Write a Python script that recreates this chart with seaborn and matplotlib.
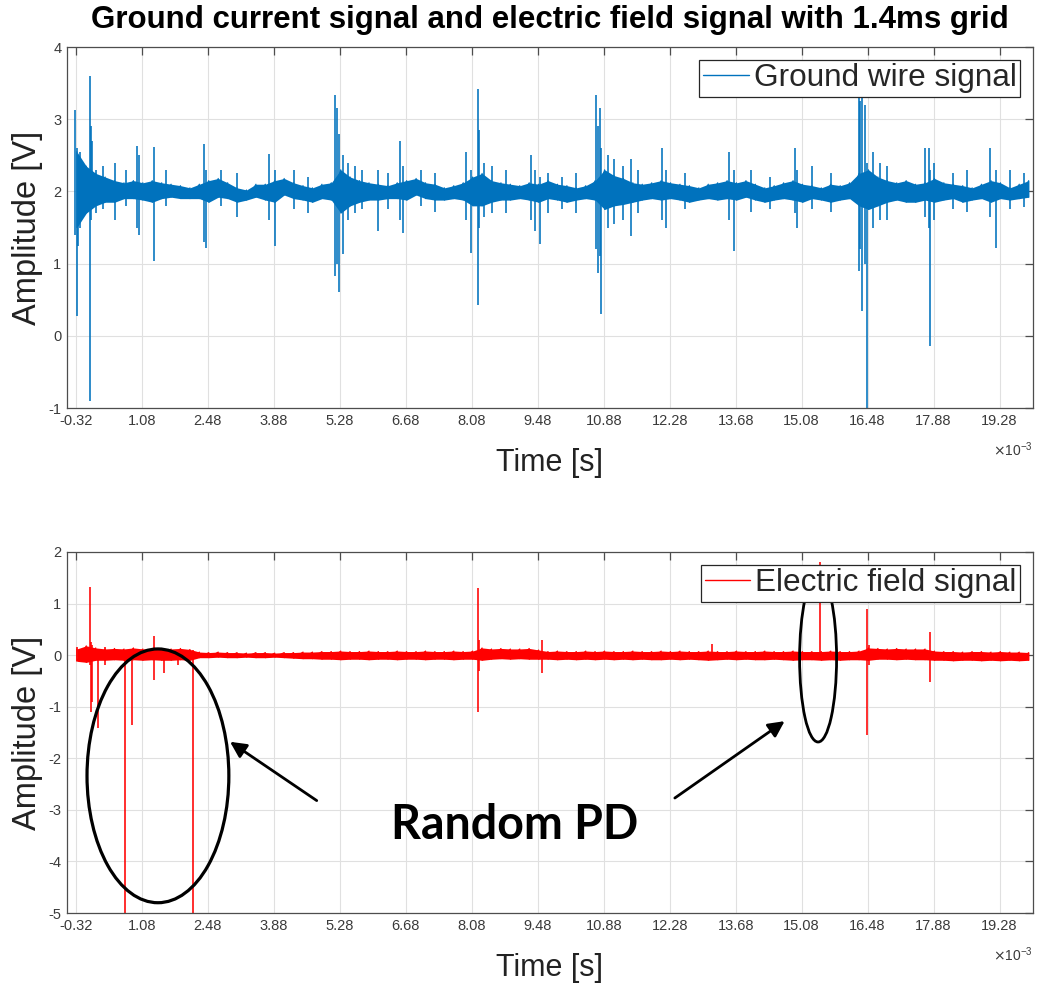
import numpy as np
import pandas as pd
import matplotlib
matplotlib.use("Agg")
import matplotlib.pyplot as plt
import seaborn as sns
from matplotlib.patches import Ellipse

# ---------------- data (time in ms, amplitude in V) ----------------
xtick_ms = [-0.32, 1.08, 2.48, 3.88, 5.28, 6.68, 8.08, 9.48, 10.88,
            12.28, 13.68, 15.08, 16.48, 17.88, 19.28]
env_t0, env_dt = -0.3, 0.2      # envelope sampling of the noise band

# Ground wire signal: noise band envelope
gw_upper = [2.55, 2.35, 2.25, 2.20, 2.15, 2.12, 2.15, 2.12, 2.15, 2.12,
            2.10, 2.08, 2.05, 2.10, 2.15, 2.18, 2.12, 2.05, 2.02, 2.10,
            2.10, 2.15, 2.18, 2.12, 2.08, 2.05, 2.10, 2.12, 2.30, 2.20,
            2.15, 2.12, 2.10, 2.08, 2.12, 2.15, 2.18, 2.12, 2.10, 2.05,
            2.08, 2.12, 2.20, 2.25, 2.15, 2.12, 2.10, 2.08, 2.12, 2.10,
            2.15, 2.10, 2.08, 2.05, 2.08, 2.15, 2.30, 2.22, 2.18, 2.12,
            2.10, 2.12, 2.15, 2.12, 2.10, 2.08, 2.05, 2.10, 2.12, 2.15,
            2.12, 2.15, 2.10, 2.05, 2.08, 2.12, 2.15, 2.10, 2.08, 2.05,
            2.10, 2.08, 2.12, 2.25, 2.30, 2.20, 2.15, 2.12, 2.15, 2.10,
            2.12, 2.18, 2.12, 2.10, 2.08, 2.05, 2.10, 2.15, 2.12, 2.05,
            2.10, 2.15]
gw_lower = [1.50, 1.70, 1.80, 1.85, 1.85, 1.90, 1.90, 1.88, 1.85, 1.90,
            1.92, 1.90, 1.90, 1.90, 1.85, 1.92, 1.90, 1.85, 1.88, 1.92,
            1.88, 1.85, 1.95, 1.90, 1.88, 1.85, 1.90, 1.88, 1.70, 1.80,
            1.85, 1.88, 1.88, 1.90, 1.90, 1.88, 1.95, 1.90, 1.88, 1.88,
            1.90, 1.88, 1.80, 1.80, 1.85, 1.88, 1.88, 1.90, 1.88, 1.85,
            1.90, 1.88, 1.85, 1.88, 1.90, 1.88, 1.75, 1.80, 1.82, 1.85,
            1.88, 1.90, 1.88, 1.90, 1.88, 1.85, 1.88, 1.90, 1.88, 1.90,
            1.88, 1.92, 1.88, 1.85, 1.88, 1.90, 1.88, 1.85, 1.90, 1.88,
            1.85, 1.88, 1.90, 1.80, 1.75, 1.80, 1.85, 1.88, 1.85, 1.85,
            1.88, 1.85, 1.88, 1.90, 1.85, 1.88, 1.90, 1.85, 1.90, 1.88,
            1.90, 1.92]
# Ground wire signal: pulses (time, peak, trough)
gw_pulse_t = [-0.33, -0.30, -0.27, -0.24, -0.20, -0.03, -0.01, 0.02, 0.10, 0.25,
              0.51, 0.75, 0.98, 1.02, 1.33, 1.60, 2.39, 2.44, 2.75, 3.10,
              3.78, 3.90, 4.30, 4.60, 5.17, 5.23, 5.27, 5.35, 5.45, 5.60,
              5.75, 6.09, 6.30, 6.55, 6.62, 7.00, 7.30, 7.95, 8.07, 8.21,
              8.24, 8.35, 8.50, 8.80, 9.34, 9.42, 9.52, 9.69, 10.00, 10.30,
              10.72, 10.76, 10.80, 10.83, 10.98, 11.10, 11.30, 11.45, 11.60, 12.12,
              12.20, 12.60, 13.53, 13.65, 14.00, 14.40, 14.94, 14.99, 15.30, 15.70,
              16.29, 16.33, 16.36, 16.42, 16.46, 16.60, 16.75, 16.90, 17.70, 17.78,
              17.81, 17.90, 18.30, 18.60, 19.08, 19.21, 19.50, 19.80]
gw_pulse_hi = [3.13, 2.60, 2.50, 2.55, 2.40, 3.60, 2.90, 2.70, 2.30, 2.35,
               2.40, 2.30, 2.63, 2.50, 2.62, 2.30, 2.65, 2.30, 2.30, 2.25,
               2.52, 2.30, 2.30, 2.20, 3.33, 3.15, 2.80, 2.50, 2.40, 2.35,
               2.30, 2.30, 2.25, 2.70, 2.35, 2.30, 2.25, 2.55, 2.30, 3.42,
               2.85, 2.40, 2.35, 2.30, 2.50, 2.30, 2.20, 2.25, 2.20, 2.25,
               3.33, 2.90, 3.15, 2.60, 2.50, 2.45, 2.35, 2.45, 2.30, 2.60,
               2.30, 2.25, 2.55, 2.30, 2.30, 2.20, 2.60, 2.30, 2.35, 2.25,
               3.30, 3.25, 3.30, 3.20, 2.40, 2.55, 2.40, 2.35, 2.60, 2.60,
               2.30, 2.40, 2.25, 2.30, 2.60, 2.30, 2.30, 2.25]
gw_pulse_lo = [1.40, 0.27, 1.24, 1.50, 1.70, -0.90, 1.60, 1.75, 1.70, 1.75,
               1.60, 1.80, 1.50, 1.40, 1.03, 1.80, 1.30, 1.22, 1.80, 1.65,
               1.60, 1.25, 1.75, 1.70, 0.83, 1.00, 0.60, 1.13, 1.60, 1.70,
               1.75, 1.45, 1.75, 1.60, 1.43, 1.80, 1.72, 1.60, 1.15, 0.42,
               1.50, 1.65, 1.70, 1.70, 1.60, 1.45, 1.27, 1.70, 1.75, 1.70,
               1.20, 0.87, 1.10, 0.30, 1.50, 1.55, 1.60, 1.38, 1.70, 1.60,
               1.50, 1.75, 1.60, 1.17, 1.72, 1.75, 1.70, 1.50, 1.75, 1.72,
               0.90, 1.20, 0.35, 1.00, -1.00, 1.50, 1.60, 1.60, 1.65, 1.50,
               -0.14, 1.60, 1.75, 1.72, 1.65, 1.22, 1.75, 1.78]

# Electric field signal: noise band envelope
ef_upper = [0.12, 0.18, 0.14, 0.12, 0.13, 0.12, 0.14, 0.12, 0.13, 0.12,
            0.12, 0.13, 0.11, 0.06, 0.05, 0.06, 0.05, 0.05, 0.04, 0.05,
            0.05, 0.04, 0.05, 0.05, 0.06, 0.06, 0.07, 0.07, 0.08, 0.07,
            0.07, 0.08, 0.07, 0.07, 0.08, 0.07, 0.07, 0.08, 0.07, 0.07,
            0.08, 0.07, 0.08, 0.14, 0.12, 0.13, 0.12, 0.12, 0.13, 0.10,
            0.07, 0.08, 0.07, 0.07, 0.08, 0.07, 0.08, 0.07, 0.07, 0.08,
            0.07, 0.07, 0.08, 0.07, 0.08, 0.07, 0.07, 0.08, 0.07, 0.07,
            0.08, 0.07, 0.07, 0.08, 0.07, 0.07, 0.08, 0.07, 0.07, 0.07,
            0.08, 0.07, 0.07, 0.08, 0.14, 0.13, 0.12, 0.13, 0.12, 0.12,
            0.12, 0.08, 0.07, 0.07, 0.06, 0.07, 0.07, 0.06, 0.07, 0.06,
            0.06, 0.05]
ef_lower = [-0.12, -0.14, -0.10, -0.10, -0.09, -0.10, -0.09, -0.10, -0.09, -0.10,
            -0.10, -0.09, -0.10, -0.05, -0.05, -0.04, -0.05, -0.05, -0.04, -0.05,
            -0.05, -0.04, -0.05, -0.06, -0.07, -0.07, -0.08, -0.08, -0.09, -0.08,
            -0.08, -0.09, -0.08, -0.08, -0.09, -0.08, -0.08, -0.09, -0.08, -0.08,
            -0.09, -0.08, -0.08, -0.10, -0.08, -0.07, -0.08, -0.07, -0.08, -0.08,
            -0.08, -0.09, -0.08, -0.09, -0.08, -0.09, -0.08, -0.09, -0.08, -0.09,
            -0.08, -0.09, -0.09, -0.08, -0.09, -0.08, -0.09, -0.10, -0.09, -0.08,
            -0.09, -0.08, -0.09, -0.09, -0.08, -0.09, -0.10, -0.09, -0.09, -0.10,
            -0.09, -0.10, -0.09, -0.09, -0.10, -0.08, -0.08, -0.09, -0.08, -0.09,
            -0.09, -0.10, -0.10, -0.11, -0.10, -0.10, -0.11, -0.10, -0.11, -0.10,
            -0.11, -0.10]
# Electric field signal: pulses (time, peak, trough)
ef_pulse_t = [-0.30, -0.03, -0.01, 0.02, 0.15, 0.30, 0.73, 0.88, 1.33, 1.55,
              1.85, 2.17, 8.21, 8.24, 9.57, 13.18, 15.47, 16.46, 16.50, 17.81]
ef_pulse_hi = [0.15, 1.33, 0.25, 0.20, 0.10, 0.15, 0.10, 0.10, 0.37, 0.10,
               0.08, 0.10, 1.30, 0.30, 0.30, 0.22, 1.80, 0.90, 0.20, 0.45]
ef_pulse_lo = [-0.12, -0.20, -1.10, -0.90, -1.42, -0.20, -5.50, -1.35, -0.49, -0.35,
               -0.20, -5.50, -1.11, -0.30, -0.35, -0.05, -0.05, -1.54, -0.20, -0.53]

BLUE = "#0072BD"
RED = "#FF0000"


def band_trace(upper, lower):
    t_env = env_t0 + env_dt * np.arange(len(upper))
    pts = []
    for t, u, l in zip(t_env, upper, lower):
        pts.append((t, u))
        pts.append((t, l))
    return t_env, pd.DataFrame(pts, columns=["t", "v"])


sns.set_style("whitegrid")
plt.rcParams["font.family"] = ["Liberation Sans", "DejaVu Sans"]
plt.rcParams["axes.unicode_minus"] = False

fig = plt.figure(figsize=(10.37, 9.86), dpi=100)
ax1 = fig.add_axes([0.0646, 0.5862, 0.9315, 0.3661])
ax2 = fig.add_axes([0.0646, 0.0740, 0.9315, 0.3662])

GRAY = "#4d4d4d"

for ax, up, lo, pt, phi, plo, col, lab, ylim, yt in [
    (ax1, gw_upper, gw_lower, gw_pulse_t, gw_pulse_hi, gw_pulse_lo, BLUE,
     "Ground wire signal", (-1, 4), range(-1, 5)),
    (ax2, ef_upper, ef_lower, ef_pulse_t, ef_pulse_hi, ef_pulse_lo, RED,
     "Electric field signal", (-5, 2), range(-5, 3)),
]:
    t_env, df = band_trace(up, lo)
    ax.fill_between(t_env, lo, up, color=col, lw=0, alpha=1.0)
    sns.lineplot(data=df, x="t", y="v", sort=False, estimator=None,
                 color=col, lw=0.8, ax=ax, label=lab)
    ax.vlines(pt, plo, phi, color=col, lw=1.15)
    ax.set_xlim(-0.51, 19.99)
    ax.set_ylim(*ylim)
    ax.set_xticks(xtick_ms)
    ax.set_xticklabels([f"{v:.2f}" for v in xtick_ms])
    ax.set_yticks(list(yt))
    ax.set_yticklabels([str(v) for v in yt])
    ax.grid(True, color="#e0e0e0", lw=0.8)
    ax.set_axisbelow(True)
    for s in ax.spines.values():
        s.set_visible(True)
        s.set_color(GRAY)
        s.set_linewidth(0.9)
    ax.tick_params(direction="in", length=6, width=0.9, top=True, right=True,
                   colors=GRAY, labelcolor="#3a3a3a", labelsize=10.5, pad=4)
    ax.set_xlabel("Time [s]", fontsize=22, color="#222222", labelpad=15)
    ax.set_ylabel("Amplitude [V]", fontsize=23.5, color="#222222", labelpad=4)
    ax.text(1.0, -0.115, r"$\times\mathregular{10^{-3}}$", transform=ax.transAxes,
            ha="right", va="center", fontsize=10, color="#3a3a3a")
    leg = ax.legend(loc="upper right", fontsize=22.7, frameon=True, fancybox=False,
                    edgecolor="#262626", framealpha=1, borderpad=0.12,
                    handlelength=1.45, handletextpad=0.15, borderaxespad=0.4)
    leg.get_frame().set_linewidth(0.9)
    for h in leg.get_lines():
        h.set_linewidth(1.0)

ax1.set_title("Ground current signal and electric field signal with 1.4ms grid",
              fontsize=22.5, fontweight="bold", pad=14, color="black")

# annotations on the lower plot
ax2.add_patch(Ellipse((1.42, -2.34), 3.01, 4.92, fill=False, lw=2.3,
                      edgecolor="black", zorder=5))
ax2.add_patch(Ellipse((15.43, -0.064), 0.785, 3.24, fill=False, lw=2.0,
                      edgecolor="black", zorder=5))
ax2.annotate("", xy=(2.95, -1.68), xytext=(4.79, -2.82),
             arrowprops=dict(arrowstyle="-|>", lw=2.0, color="black",
                             mutation_scale=24, shrinkA=0, shrinkB=0), zorder=6)
ax2.annotate("", xy=(14.72, -1.28), xytext=(12.39, -2.77),
             arrowprops=dict(arrowstyle="-|>", lw=2.0, color="black",
                             mutation_scale=24, shrinkA=0, shrinkB=0), zorder=6)
ax2.text(8.99, -3.29, "Random PD", fontsize=33.5, fontweight="bold",
         family=["Lato", "DejaVu Sans"], ha="center", va="center", color="black", zorder=6)

fig.savefig("out.png", dpi=100)
